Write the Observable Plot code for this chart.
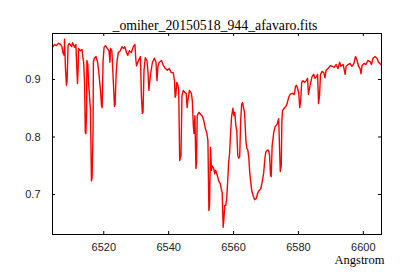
<!DOCTYPE html>
<html><head><meta charset="utf-8">
<script src="https://cdn.jsdelivr.net/npm/d3@7"></script>
<script src="https://cdn.jsdelivr.net/npm/@observablehq/plot@0.6"></script>
<style>body{margin:0;background:#fff}</style></head>
<body><div id="chart"></div>
<script>
const title = "_omiher_20150518_944_afavaro.fits";
const xLabel = "Angstrom";
const xTicks = [6520, 6540, 6560, 6580, 6600];
const yTicks = [0.7, 0.8, 0.9];
const wavelength = [
6504.4,6504.8,6505.4,6506.1,6506.7,6507.1,6507.4,6507.8,6507.9,6508.2,
6508.5,6508.7,6509.0,6509.4,6510.1,6510.4,6511.0,6511.4,6511.7,6511.9,
6512.1,6512.2,6512.8,6513.3,6513.6,6513.8,6514.1,6514.3,6514.5,6514.7,
6514.8,6515.1,6515.3,6515.6,6515.9,6516.2,6516.4,6516.7,6516.8,6517.1,
6517.6,6518.1,6518.4,6518.7,6519.0,6519.3,6519.5,6519.8,6520.1,6520.5,
6521.1,6521.6,6521.9,6522.1,6522.5,6523.0,6523.3,6523.5,6523.8,6524.1,
6524.5,6525.1,6525.6,6526.1,6526.5,6527.0,6527.4,6527.9,6528.5,6529.1,
6529.6,6529.9,6530.1,6530.5,6531.0,6531.3,6531.6,6531.9,6532.1,6532.4,
6532.8,6533.3,6533.6,6533.9,6534.2,6534.5,6535.0,6535.6,6536.1,6536.4,
6536.7,6537.1,6537.8,6538.4,6539.0,6539.6,6540.2,6540.8,6541.4,6541.8,
6542.0,6542.2,6542.5,6542.8,6543.1,6543.4,6543.8,6544.1,6544.5,6545.0,
6545.4,6545.7,6545.9,6546.4,6547.0,6547.3,6547.6,6547.8,6548.1,6548.4,
6548.6,6548.8,6549.3,6549.9,6550.4,6550.8,6551.3,6551.8,6552.1,6552.4,
6552.6,6552.9,6553.2,6553.4,6553.9,6554.2,6554.5,6555.0,6555.4,6555.9,
6556.2,6556.5,6556.8,6557.0,6557.3,6557.6,6557.9,6558.2,6558.5,6558.8,
6559.1,6559.4,6559.8,6560.1,6560.4,6560.7,6561.0,6561.3,6561.6,6561.9,
6562.2,6562.5,6562.8,6563.1,6563.4,6563.8,6564.1,6564.4,6564.7,6565.0,
6565.3,6565.6,6566.1,6566.5,6567.0,6567.4,6567.9,6568.4,6568.8,6569.3,
6569.6,6569.9,6570.4,6570.8,6571.1,6571.4,6571.6,6571.9,6572.4,6572.8,
6573.4,6573.9,6574.2,6574.4,6574.7,6574.9,6575.1,6575.6,6576.1,6576.5,
6577.0,6577.4,6578.1,6578.7,6579.1,6579.4,6579.8,6580.1,6580.4,6580.7,
6581.0,6581.4,6581.9,6582.4,6582.8,6583.1,6583.4,6583.8,6584.2,6584.7,
6585.1,6585.6,6585.9,6586.2,6586.5,6586.8,6587.3,6587.8,6588.2,6588.5,
6589.1,6589.8,6590.4,6591.0,6591.6,6592.2,6592.7,6593.1,6593.8,6594.4,
6594.7,6595.3,6595.9,6596.5,6597.1,6597.6,6598.1,6598.5,6599.0,6599.3,
6599.6,6600.2,6600.8,6601.4,6602.1,6602.5,6603.0,6603.6,6604.2,6604.7,
6605.1,6605.4];
const flux = [
0.957,0.961,0.959,0.963,0.961,0.957,0.947,0.942,0.970,0.919,
0.890,0.898,0.959,0.963,0.957,0.964,0.956,0.961,0.919,0.893,
0.916,0.954,0.950,0.952,0.937,0.930,0.893,0.808,0.806,0.846,
0.933,0.926,0.895,0.872,0.846,0.724,0.728,0.811,0.930,0.937,
0.940,0.930,0.916,0.898,0.881,0.855,0.851,0.933,0.956,0.959,
0.954,0.950,0.930,0.954,0.950,0.890,0.853,0.857,0.907,0.933,
0.947,0.950,0.957,0.954,0.957,0.947,0.942,0.950,0.947,0.957,
0.961,0.933,0.924,0.930,0.937,0.940,0.872,0.841,0.843,0.916,
0.938,0.933,0.916,0.881,0.898,0.912,0.930,0.937,0.930,0.898,
0.923,0.930,0.933,0.924,0.919,0.916,0.919,0.912,0.912,0.898,
0.869,0.872,0.895,0.891,0.881,0.759,0.768,0.872,0.881,0.877,
0.876,0.851,0.863,0.881,0.876,0.863,0.820,0.806,0.837,0.745,
0.756,0.837,0.843,0.839,0.836,0.829,0.815,0.806,0.794,0.672,
0.681,0.782,0.742,0.750,0.745,0.736,0.742,0.733,0.724,0.719,
0.710,0.703,0.643,0.655,0.681,0.681,0.693,0.724,0.756,0.773,
0.808,0.836,0.850,0.837,0.843,0.820,0.811,0.768,0.763,0.766,
0.829,0.857,0.860,0.850,0.843,0.794,0.780,0.777,0.764,0.738,
0.721,0.707,0.697,0.691,0.693,0.702,0.707,0.710,0.721,0.738,
0.759,0.773,0.777,0.777,0.768,0.733,0.731,0.785,0.808,0.818,
0.822,0.832,0.777,0.740,0.750,0.829,0.846,0.850,0.853,0.858,
0.869,0.874,0.876,0.874,0.888,0.890,0.883,0.877,0.851,0.863,
0.895,0.898,0.895,0.898,0.902,0.874,0.884,0.895,0.905,0.909,
0.902,0.905,0.909,0.858,0.872,0.909,0.914,0.912,0.903,0.916,
0.919,0.924,0.923,0.921,0.926,0.919,0.930,0.923,0.926,0.909,
0.923,0.926,0.928,0.923,0.928,0.940,0.933,0.923,0.919,0.910,
0.924,0.928,0.926,0.933,0.931,0.926,0.937,0.940,0.937,0.930,
0.928,0.926];

const data = wavelength.map((w, i) => ({w, f: flux[i]}));
const serif = "'Liberation Serif', 'Times New Roman', serif";
const sans = "'Liberation Sans', Arial, sans-serif";

const chart = Plot.plot({
  width: 400,
  height: 280,
  marginTop: 33,
  marginBottom: 46,
  marginLeft: 52,
  marginRight: 19,
  style: {background: "white", color: "#000", fontFamily: sans, fontSize: "11px"},
  x: {domain: [6504.2, 6605.6]},
  y: {domain: [0.6304, 0.98]},
  marks: [
    Plot.line(data, {x: "w", y: "f", stroke: "#ff0000", strokeWidth: 1.4, clip: true}),
    Plot.ruleX(xTicks, {x: d => d, insetTop: 198, stroke: "#000"}),
    Plot.ruleX(xTicks, {x: d => d, insetBottom: 198, stroke: "#000"}),
    Plot.ruleY(yTicks, {y: d => d, insetRight: 326, stroke: "#000"}),
    Plot.ruleY(yTicks, {y: d => d, insetLeft: 326, stroke: "#000"}),
    Plot.frame({stroke: "#000"}),
    Plot.axisX(xTicks, {tickSize: 0, tickPadding: 9, label: null, tickFormat: d => String(d), fill: "#222"}),
    Plot.axisY(yTicks, {tickSize: 0, tickPadding: 12, label: null, tickFormat: d3.format(".1f"), fill: "#222"}),
    Plot.text([xLabel], {text: d => d, frameAnchor: "bottom-right", textAnchor: "end", dx: 3, dy: 29, fontFamily: serif, fontSize: 12.5, fontWeight: "normal", fill: "#000"}),
    Plot.text([title], {text: d => d, frameAnchor: "top", dy: -13, dx: -2, fontFamily: serif, fontSize: 13.8, fontWeight: "normal", fill: "#000"})
  ]
});
document.getElementById("chart").appendChild(chart);
</script>
</body></html>
